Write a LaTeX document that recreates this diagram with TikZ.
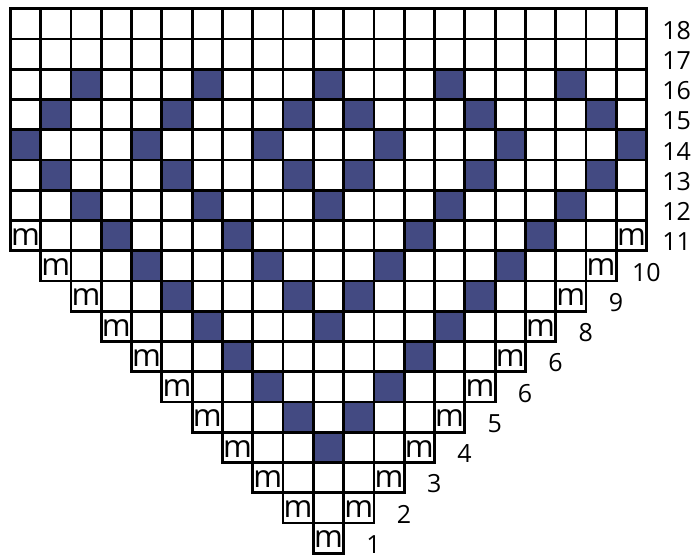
\documentclass[tikz,border=0pt]{standalone}
\usepackage{fontspec}
\setmainfont{Open Sans}
\definecolor{navy}{RGB}{67,74,130}
\begin{document}
\begin{tikzpicture}
\useasboundingbox (0,0) rectangle (695pt,-554pt);
\begin{scope}[shift={(10.3pt,-8.8pt)},x=30.3pt,y=-30.25pt,
  cellbox/.style={draw=black,line width=2.8pt,fill=white},
  darkcell/.style={draw=black,line width=2.8pt,fill=navy},
  mtext/.style={anchor=base,inner sep=0pt,font=\fontsize{31}{31}\selectfont},
  rowlabel/.style={anchor=base,inner sep=0pt,font=\fontsize{25}{25}\selectfont}]
% full rows 18..11
\foreach \t in {0,...,7} {
  \foreach \c in {0,...,20} { \draw[cellbox] (\c,\t) rectangle ++(1,1); }
}
% triangle rows 10..1
\foreach \k in {1,...,10} {
  \pgfmathtruncatemacro\t{18-\k}
  \pgfmathtruncatemacro\a{11-\k}
  \pgfmathtruncatemacro\b{9+\k}
  \foreach \c in {\a,...,\b} { \draw[cellbox] (\c,\t) rectangle ++(1,1); }
}
% dark cells (column/row-from-top)
\foreach \c/\t in {2/2,6/2,10/2,14/2,18/2,
                   1/3,5/3,9/3,11/3,15/3,19/3,
                   0/4,4/4,8/4,12/4,16/4,20/4,
                   1/5,5/5,9/5,11/5,15/5,19/5,
                   2/6,6/6,10/6,14/6,18/6,
                   3/7,7/7,13/7,17/7,
                   4/8,8/8,12/8,16/8,
                   5/9,9/9,11/9,15/9,
                   6/10,10/10,14/10,
                   7/11,13/11,
                   8/12,12/12,
                   9/13,11/13,
                   10/14} {
  \draw[darkcell] (\c,\t) rectangle ++(1,1);
}
% m marks
\foreach \k in {1,...,11} {
  \pgfmathtruncatemacro\t{18-\k}
  \pgfmathtruncatemacro\a{11-\k}
  \pgfmathtruncatemacro\b{9+\k}
  \node[mtext,yshift=5.5pt] (mL\k) at (\a+0.5,\t+1) {m};
  \ifnum\k>1
    \node[mtext,yshift=5.5pt] (mR\k) at (\b+0.5,\t+1) {m};
  \fi
}
% row labels
\foreach \t/\txt in {0/18,1/17,2/16,3/15,4/14,5/13,6/12,7/11} {
  \node[rowlabel] (lab\t) at (21.99,\t+1) {\txt};
}
\foreach \k/\txt in {10/10,9/9,8/8,7/6,6/6,5/5,4/4,3/3,2/2,1/1} {
  \pgfmathtruncatemacro\t{18-\k}
  \node[rowlabel] (lab\t) at (10.99+\k,\t+1) {\txt};
}
\end{scope}
\end{tikzpicture}
\end{document}
